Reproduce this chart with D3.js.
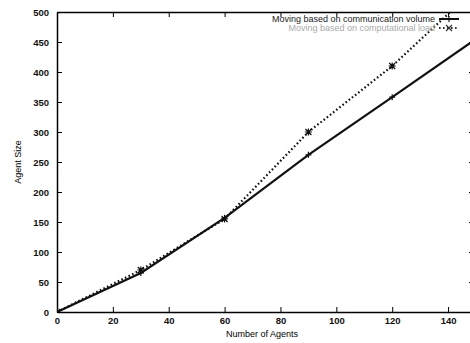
<!DOCTYPE html>
<html>
<head>
<meta charset="utf-8">
<script src="https://cdn.jsdelivr.net/npm/d3@7"></script>
<style>
  body { margin: 0; background: #fff; }
  svg { display: block; font-family: "Liberation Sans", Arial, sans-serif; }
</style>
</head>
<body>
<div id="chart"></div>
<script>
// data
const agents = [0, 30, 60, 90, 120, 150];
const volumeSize = [0, 65, 157, 262, 358, 455];
const loadSize = [0, 70, 155, 300, 410, 540];
const seriesNames = ['Moving based on communication volume', 'Moving based on computational load'];
const xTicks = [0, 20, 40, 60, 80, 100, 120, 140];
const yTicks = [0, 50, 100, 150, 200, 250, 300, 350, 400, 450, 500];

const width = 470, height = 343;
const plotLeft = 57, plotTop = 12, plotRight = 476, plotBottom = 312;

const svg = d3.select('#chart').append('svg')
    .attr('width', width)
    .attr('height', height);

const x = d3.scaleLinear().domain([0, 150]).range([plotLeft, plotRight]);
const y = d3.scaleLinear().domain([0, 500]).range([plotBottom, plotTop]);

// frame with inward ticks (gnuplot style)
svg.append('g')
    .attr('transform', `translate(0,${plotBottom})`)
    .call(d3.axisBottom(x).tickValues(xTicks).tickSizeInner(-5).tickSizeOuter(0).tickPadding(5))
    .call(g => g.select('.domain').attr('stroke-width', 1.5));
svg.append('g')
    .attr('transform', `translate(0,${plotTop})`)
    .call(d3.axisTop(x).tickValues(xTicks).tickSizeInner(-5).tickSizeOuter(0).tickFormat(''))
    .call(g => g.select('.domain').attr('stroke-width', 1.5));
svg.append('g')
    .attr('transform', `translate(${plotLeft},0)`)
    .call(d3.axisLeft(y).tickValues(yTicks).tickSizeInner(-5).tickSizeOuter(0).tickPadding(8))
    .call(g => g.select('.domain').attr('stroke-width', 1.5));
svg.append('g')
    .attr('transform', `translate(${plotRight},0)`)
    .call(d3.axisRight(y).tickValues(yTicks).tickSizeInner(-7).tickSizeOuter(0).tickFormat(''));

svg.selectAll('.tick text')
    .attr('font-size', 9.5)
    .attr('font-weight', 'bold')
    .attr('fill', '#111');

// axis titles
svg.append('text')
    .attr('x', (plotLeft + 467) / 2)
    .attr('y', 337)
    .attr('text-anchor', 'middle')
    .attr('font-size', 9)
    .text('Number of Agents');
svg.append('text')
    .attr('transform', 'translate(21,162) rotate(-90)')
    .attr('text-anchor', 'middle')
    .attr('font-size', 9)
    .text('Agent Size');

// clip to plot area
svg.append('clipPath').attr('id', 'plot')
    .append('rect')
    .attr('x', plotLeft).attr('y', plotTop)
    .attr('width', plotRight - plotLeft).attr('height', plotBottom - plotTop);

const line = d3.line()
    .x(d => x(d[0]))
    .y(d => y(d[1]));

const volumePts = agents.map((a, i) => [a, volumeSize[i]]);
const loadPts = agents.map((a, i) => [a, loadSize[i]]);

const plot = svg.append('g').attr('clip-path', 'url(#plot)');

plot.append('path')
    .datum(loadPts)
    .attr('fill', 'none')
    .attr('stroke', '#111')
    .attr('stroke-width', 2.2)
    .attr('stroke-dasharray', '1.6,2.4')
    .attr('d', line);

plot.append('path')
    .datum(volumePts)
    .attr('fill', 'none')
    .attr('stroke', '#111')
    .attr('stroke-width', 2.2)
    .attr('d', line);

// point markers
plot.selectAll('.mk-volume')
    .data(volumePts)
    .enter()
    .append('path')
    .attr('class', 'mk-volume')
    .attr('d', d => `M${x(d[0]) - 3},${y(d[1])}h6M${x(d[0])},${y(d[1]) - 3}v6`)
    .attr('stroke', '#111')
    .attr('stroke-width', 1.2);

plot.selectAll('.mk-load')
    .data(loadPts)
    .enter()
    .append('path')
    .attr('class', 'mk-load')
    .attr('d', d => `M${x(d[0]) - 3},${y(d[1]) - 3}l6,6M${x(d[0]) - 3},${y(d[1]) + 3}l6,-6M${x(d[0]) - 3.5},${y(d[1])}h7M${x(d[0])},${y(d[1]) - 3.5}v7`)
    .attr('stroke', '#111')
    .attr('stroke-width', 1.2);

// legend
const legend = svg.append('g');
const legendY = [19, 28];
const legendColor = ['#222', '#aaa'];
legend.selectAll('text')
    .data(seriesNames)
    .enter()
    .append('text')
    .attr('x', 435)
    .attr('y', (d, i) => legendY[i] + 3)
    .attr('text-anchor', 'end')
    .attr('font-size', 9)
    .attr('fill', (d, i) => legendColor[i])
    .text(d => d);

legend.append('line')
    .attr('x1', 439).attr('x2', 459)
    .attr('y1', legendY[0]).attr('y2', legendY[0])
    .attr('stroke', '#111').attr('stroke-width', 2);
legend.append('path')
    .attr('d', `M449,${legendY[0] - 3}v6`)
    .attr('stroke', '#111').attr('stroke-width', 1.2);
legend.append('line')
    .attr('x1', 439).attr('x2', 459)
    .attr('y1', legendY[1]).attr('y2', legendY[1])
    .attr('stroke', '#333').attr('stroke-width', 2)
    .attr('stroke-dasharray', '1.6,2.4');
legend.append('path')
    .attr('d', `M446,${legendY[1] - 3}l6,6M446,${legendY[1] + 3}l6,-6`)
    .attr('stroke', '#333').attr('stroke-width', 1.2);
</script>
</body>
</html>
